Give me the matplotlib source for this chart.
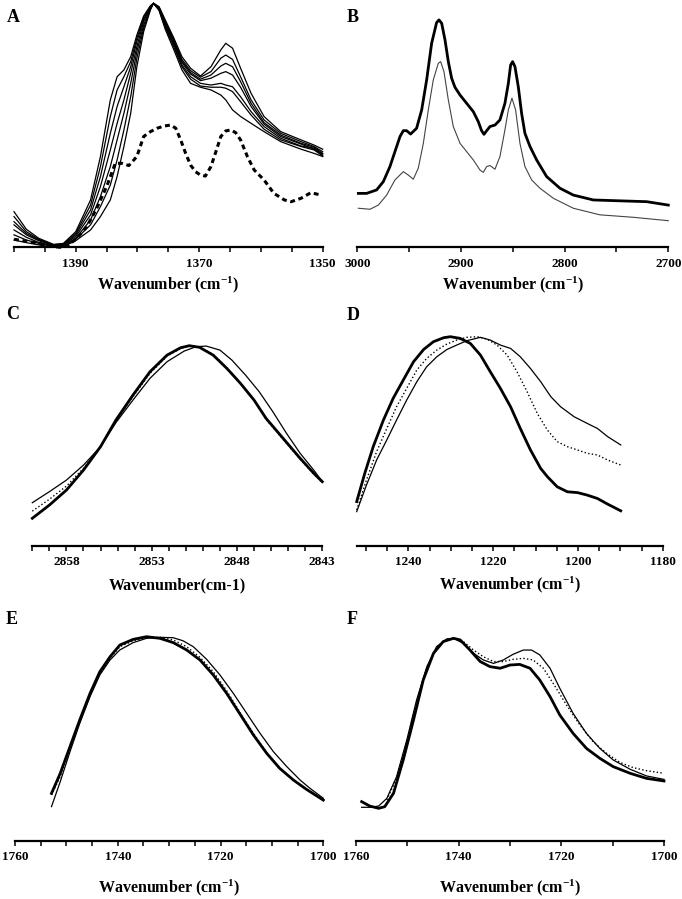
import matplotlib
matplotlib.use("Agg")
import matplotlib.pyplot as plt

plt.rcParams['font.family'] = ['Liberation Serif', 'DejaVu Serif']
plt.rcParams['font.weight'] = 'bold'
plt.rcParams['mathtext.default'] = 'regular'
plt.rcParams['lines.solid_joinstyle'] = 'round'

# ---------------- Panel A (1400-1350 cm-1) ----------------
a_wn = [1400, 1398, 1396, 1393.6, 1392, 1390, 1387.6, 1386, 1384.4, 1383.3, 1382.2, 1381.1,
        1380.1, 1379, 1377.9, 1377.4, 1376.5, 1375.5, 1374.1, 1372.8, 1371.4, 1369.8, 1368.1,
        1366.5, 1365.7, 1364.6, 1363.3, 1361.6, 1359.5, 1356.8, 1353.5, 1351.4, 1350]
a_k0 = [3.0, 1.9, 1.0, 0.0, 0.3, 2.7, 7.1, 12.6, 19.4, 29.0, 41.3, 54.9, 74.0, 88.4, 97.3, 100,
        98.6, 93.2, 85.7, 78.1, 73.4, 70.2, 74.0, 80.9, 83.6, 81.6, 73.4, 63.1, 53.6, 47.4, 44.0, 41.9, 40.2]
a_k1 = [5.1, 3.0, 1.6, 0.3, 0.5, 3.3, 9.2, 16.7, 25.5, 35.8, 48.1, 61.7, 77.5, 89.8, 97.7, 100,
        98.4, 92.5, 85.0, 77.0, 72.4, 69.7, 72.0, 77.5, 78.8, 77.0, 69.9, 60.4, 52.2, 46.7, 43.3, 41.3, 39.2]
a_k2 = [7.1, 4.1, 2.0, 0.5, 0.7, 3.7, 11.2, 20.8, 33.1, 44.0, 54.9, 67.2, 80.2, 91.1, 98.0, 100,
        98.0, 91.8, 84.3, 76.4, 71.6, 68.9, 70.6, 74.3, 75.4, 74.0, 67.9, 59.0, 51.1, 46.0, 42.6, 41.0, 38.5]
a_k3 = [9.2, 5.1, 2.7, 0.7, 1.0, 4.4, 13.3, 24.9, 39.9, 50.8, 60.4, 71.3, 82.2, 92.5, 98.4, 100,
        98.0, 91.5, 83.6, 75.7, 71.0, 68.3, 69.3, 71.3, 72.0, 70.6, 65.6, 57.7, 50.5, 45.4, 42.3, 40.2, 38.3]
a_k4 = [10.5, 5.7, 3.0, 1.0, 1.2, 5.1, 15.3, 29.0, 46.7, 57.7, 65.8, 74.0, 84.3, 93.4, 98.6, 100,
        97.5, 90.7, 82.9, 74.7, 69.9, 67.2, 66.5, 67.2, 66.5, 65.8, 61.7, 55.6, 49.5, 44.7, 41.5, 40.6, 37.8]
a_k5 = [12.6, 6.4, 3.3, 1.0, 1.4, 5.7, 17.3, 33.1, 53.6, 64.5, 69.9, 76.1, 85.7, 94.3, 98.9, 100,
        97.3, 90.2, 82.0, 74.0, 68.9, 66.1, 65.6, 65.6, 65.2, 63.8, 59.7, 54.2, 48.4, 44.0, 41.3, 39.9, 37.4]
a_k6 = [14.6, 7.4, 3.7, 1.2, 1.6, 6.4, 19.4, 37.2, 60.4, 69.9, 72.7, 78.1, 87.0, 94.8, 99.0, 100,
        97.0, 89.3, 80.9, 72.7, 67.2, 65.6, 64.5, 62.4, 60.4, 56.3, 53.6, 50.8, 47.4, 43.3, 40.2, 38.5, 37.2]
a_series = [a_k0, a_k1, a_k2, a_k3, a_k4, a_k5, a_k6]

a_diff_wn = [1400, 1398.5, 1396.9, 1395.2, 1393.6, 1392.5, 1391.4, 1389.8, 1388.2, 1386.6, 1384.9,
             1383.6, 1382.5, 1381.4, 1380.1, 1379.0, 1377.9, 1376.8, 1375.7, 1374.6, 1373.8, 1373.0,
             1372.2, 1371.4, 1370.6, 1369.8, 1369.0, 1368.1, 1367.3, 1366.5, 1365.7, 1364.9, 1364.1,
             1363.3, 1362.2, 1361.1, 1359.5, 1357.9, 1356.2, 1355.1, 1353.5, 1351.9, 1350.3]
a_diff = [3.3, 2.7, 2.0, 1.2, 0.3, 0.0, 0.5, 3.7, 8.5, 16.0, 25.5, 34.4, 34.4, 33.5, 37.2, 45.4,
          47.4, 48.8, 49.7, 50.1, 48.8, 44.0, 38.5, 33.7, 31.0, 29.6, 29.2, 33.1, 39.2, 45.4, 47.7,
          48.1, 47.0, 44.0, 37.2, 31.7, 27.6, 22.1, 19.4, 18.7, 20.1, 22.4, 21.4]

a_ticks = [1400, 1395, 1390, 1385, 1380, 1375, 1370, 1365, 1360, 1355, 1350]
a_labels = ['', '', '1390', '', '', '', '1370', '', '', '', '1350']

# ---------------- Panel B (3000-2700 cm-1) ----------------
b_thick_wn = [2999.0, 2991.0, 2981.4, 2974.9, 2968.5, 2963.7, 2958.8, 2955.6, 2952.4, 2948.6, 2942.8,
              2937.9, 2933.1, 2928.3, 2923.5, 2921.2, 2918.6, 2915.4, 2912.2, 2909.0, 2905.8, 2900.9,
              2894.5, 2888.1, 2883.3, 2880.1, 2877.8, 2875.2, 2872.0, 2867.2, 2862.4, 2857.6, 2854.3,
              2852.1, 2850.2, 2847.9, 2844.7, 2841.5, 2838.3, 2833.4, 2827.0, 2817.4, 2804.5, 2791.6,
              2772.3, 2743.4, 2720.9, 2700.0]
b_thick = [22.1, 22.1, 23.5, 26.9, 33.1, 39.2, 45.4, 47.8, 47.8, 46.4, 48.8,
           56.3, 68.6, 83.6, 92.1, 93.2, 91.8, 85.0, 76.1, 69.3, 65.6, 62.4,
           59.0, 55.6, 51.5, 47.8, 46.3, 47.8, 49.5, 50.1, 52.2, 59.0, 67.2,
           74.7, 76.1, 74.0, 65.8, 54.9, 46.7, 41.3, 35.8, 29.0, 24.2, 21.4,
           19.4, 19.0, 18.7, 17.3]
b_thin_wn = [2999.0, 2987.8, 2979.7, 2971.7, 2963.7, 2955.6, 2950.8, 2946.0, 2941.2, 2936.3, 2931.5,
             2926.7, 2921.9, 2919.6, 2916.4, 2912.2, 2907.4, 2900.9, 2894.5, 2888.1, 2881.7, 2878.5,
             2875.2, 2872.0, 2867.2, 2862.4, 2857.6, 2854.3, 2850.8, 2847.3, 2843.1, 2838.3, 2831.8,
             2823.8, 2810.9, 2791.6, 2765.9, 2733.8, 2700.0]
b_thin = [16.0, 15.6, 17.3, 21.4, 27.6, 31.0, 29.6, 27.9, 32.4, 42.6, 56.3,
          68.6, 75.4, 76.1, 72.0, 60.4, 49.5, 42.6, 39.2, 35.8, 31.7, 30.7,
          33.1, 33.5, 32.0, 37.2, 48.1, 56.3, 61.1, 56.3, 42.6, 33.1, 27.6,
          24.2, 20.1, 16.0, 13.3, 12.3, 10.9]
b_ticks = [3000, 2950, 2900, 2850, 2800, 2750, 2700]
b_labels = ['3000', '', '2900', '', '2800', '', '2700']

# ---------------- Panel C (2860-2843 cm-1) ----------------
c_wn = [2860.0, 2859.0, 2858.0, 2857.0, 2856.0, 2855.1, 2854.1, 2853.1, 2852.1, 2851.3, 2850.8,
        2850.2, 2849.4, 2848.6, 2847.8, 2847.0, 2846.3, 2845.3, 2844.3, 2843.5, 2843.0]
c_thick = [13.7, 20.3, 27.8, 37.8, 49.5, 62.8, 75.3, 87.0, 95.3, 99.0, 100, 99.2, 95.3, 88.7, 81.2,
           72.8, 63.7, 53.7, 43.7, 36.2, 32.0]
c_dot = [17.3, 23.2, 29.8, 38.7, 49.5, 62.5, 74.5, 86.2, 94.8, 98.7, 99.8, 99.2, 95.7, 89.0, 81.2,
         72.5, 63.2, 53.2, 43.2, 35.8, 31.5]
c_thin_wn = [2860.0, 2859.0, 2858.0, 2857.0, 2856.0, 2855.1, 2854.1, 2853.1, 2852.1, 2851.1, 2850.4,
             2849.8, 2849.0, 2848.3, 2847.5, 2846.7, 2845.9, 2845.1, 2844.3, 2843.5, 2843.0]
c_thin = [21.5, 27.0, 32.8, 40.3, 49.5, 61.5, 72.8, 83.7, 92.0, 97.3, 99.5, 99.8, 97.8, 92.8, 85.3,
          77.0, 67.0, 56.2, 46.2, 37.8, 32.0]
c_ticks = list(range(2860, 2842, -1))
c_labels = [str(t) if t in (2858, 2853, 2848, 2843) else '' for t in c_ticks]

# ---------------- Panel D (1252-1180 cm-1) ----------------
d_thick_wn = [1252.2, 1250.3, 1248.3, 1245.9, 1243.6, 1241.2, 1238.8, 1236.4, 1234.1, 1231.7, 1230.1,
              1227.8, 1225.4, 1223.0, 1220.7, 1218.3, 1215.9, 1213.6, 1211.2, 1208.8, 1207.2, 1204.9,
              1202.5, 1200.1, 1197.8, 1195.4, 1193.0, 1189.9]
d_thick = [21.1, 34.6, 47.4, 60.1, 70.5, 79.3, 88.0, 93.9, 97.6, 99.5, 100, 99.2, 96.8, 91.2, 83.3,
           75.3, 66.5, 56.1, 45.8, 37.0, 33.0, 28.2, 25.8, 25.4, 24.2, 22.6, 19.9, 16.7]
d_dot_wn = [1252.2, 1249.9, 1247.5, 1245.1, 1242.8, 1240.4, 1238.0, 1235.7, 1233.3, 1230.9, 1228.6,
            1226.2, 1223.8, 1221.5, 1219.1, 1216.7, 1214.4, 1212.0, 1209.6, 1207.2, 1204.9, 1202.5,
            1200.1, 1197.8, 1195.4, 1193.0, 1189.9]
d_dot = [17.1, 31.4, 45.0, 56.1, 66.5, 75.3, 84.1, 89.6, 93.6, 96.5, 98.4, 99.7, 100, 98.9, 96.0,
         91.2, 83.3, 73.7, 63.3, 55.3, 49.8, 47.4, 45.8, 44.2, 43.4, 41.0, 38.6]
d_thin_wn = [1252.2, 1249.9, 1247.5, 1245.1, 1242.8, 1240.4, 1238.0, 1235.7, 1233.3, 1230.9, 1228.6,
             1226.2, 1223.0, 1220.7, 1218.3, 1215.9, 1213.6, 1211.2, 1208.8, 1206.4, 1204.1, 1200.9,
             1197.8, 1195.4, 1193.0, 1189.9]
d_thin = [16.3, 29.0, 41.0, 50.6, 60.1, 69.7, 78.5, 85.6, 90.4, 93.9, 96.0, 98.1, 99.7, 98.4, 96.0,
          94.4, 90.4, 84.8, 78.5, 71.3, 66.5, 61.7, 58.5, 56.1, 52.2, 48.2]
d_ticks = [1250, 1245, 1240, 1235, 1230, 1225, 1220, 1215, 1210, 1205, 1200, 1195, 1190, 1185, 1180]
d_labels = [str(t) if t in (1240, 1220, 1200, 1180) else '' for t in d_ticks]

# ---------------- Panel E (1760-1700 cm-1) ----------------
e_wn = [1752.9, 1751.2, 1749.3, 1747.4, 1745.4, 1743.5, 1741.5, 1739.6, 1737.0, 1734.4, 1731.8,
        1729.2, 1726.6, 1724.0, 1721.4, 1718.8, 1716.3, 1713.6, 1711.0, 1708.5, 1705.8, 1703.3, 1700.0]
e_thick = [23.2, 33.0, 46.1, 59.2, 72.2, 82.8, 90.2, 95.9, 98.7, 100, 99.2, 97.1, 93.5, 88.6, 81.2,
           72.2, 62.4, 51.8, 42.8, 35.5, 29.7, 25.2, 19.9]
e_dot = [22.4, 31.4, 45.3, 58.3, 71.4, 82.0, 89.4, 95.1, 98.0, 99.7, 99.7, 98.4, 95.1, 89.9, 82.8,
         73.5, 63.2, 52.6, 43.1, 35.8, 29.7, 25.2, 20.3]
e_thin_wn = [1752.9, 1751.2, 1749.3, 1747.4, 1745.4, 1743.5, 1741.5, 1739.6, 1737.0, 1734.4, 1731.8,
             1729.2, 1727.3, 1725.3, 1722.7, 1720.1, 1717.5, 1714.9, 1712.3, 1709.7, 1707.1, 1704.5,
             1702.6, 1700.0]
e_thin = [16.7, 28.9, 43.6, 57.5, 70.6, 81.2, 88.6, 93.5, 97.1, 99.2, 99.7, 99.5, 98.0, 95.1, 88.9,
          81.2, 72.2, 62.4, 52.6, 43.6, 36.3, 29.7, 25.7, 20.8]
e_ticks = list(range(1760, 1695, -5))
e_labels = [str(t) if t % 20 == 0 else '' for t in e_ticks]

# ---------------- Panel F (1760-1700 cm-1) ----------------
f_thick_wn = [1758.9, 1757.3, 1755.6, 1754.4, 1752.7, 1750.8, 1748.8, 1746.9, 1744.9, 1743.0, 1741.0,
              1739.7, 1737.8, 1735.8, 1733.9, 1731.9, 1730.0, 1728.1, 1726.1, 1724.2, 1722.2, 1720.3,
              1717.7, 1715.1, 1712.5, 1709.9, 1706.6, 1703.4, 1700.0]
f_thick = [19.3, 17.1, 16.0, 16.8, 23.4, 39.9, 59.6, 79.4, 92.6, 98.4, 100, 99.2, 94.2, 88.5, 86.0,
           85.2, 86.8, 87.1, 85.2, 79.4, 71.2, 62.1, 53.0, 45.6, 40.7, 36.6, 33.3, 30.8, 29.5]
f_thin_wn = [1758.9, 1757.3, 1755.6, 1754.0, 1752.1, 1750.1, 1748.2, 1746.2, 1744.3, 1742.3, 1741.0,
             1739.1, 1737.1, 1735.2, 1733.2, 1731.3, 1729.4, 1727.4, 1725.8, 1724.2, 1722.2, 1720.3,
             1717.7, 1715.1, 1712.5, 1709.9, 1706.6, 1703.4, 1700.0]
f_thin = [16.5, 16.5, 17.1, 20.9, 31.6, 49.8, 69.5, 86.0, 95.9, 99.7, 100, 97.5, 92.6, 89.3, 87.6,
          89.3, 92.1, 94.2, 94.2, 91.8, 85.2, 75.3, 62.9, 53.0, 45.6, 39.9, 35.3, 32.0, 30.3]
f_dot_wn = [1754.0, 1752.1, 1750.1, 1748.2, 1746.2, 1744.3, 1742.3, 1741.0, 1739.1, 1737.1, 1735.2,
            1733.2, 1731.3, 1729.4, 1727.4, 1725.5, 1723.5, 1721.6, 1719.0, 1716.4, 1713.8, 1711.2,
            1708.6, 1706.0, 1703.4, 1700.0]
f_dot = [20.1, 30.8, 48.9, 68.7, 85.2, 95.4, 99.5, 100, 98.4, 94.2, 90.9, 88.5, 88.5, 89.6, 90.1,
         89.3, 85.2, 77.8, 67.1, 57.2, 48.9, 43.2, 38.7, 36.1, 34.6, 33.3]
f_ticks = list(range(1760, 1695, -10))
f_labels = [str(t) if t % 20 == 0 else '' for t in f_ticks]

XLAB = 'Wavenumber (cm$^{-1}$)'

W, H = 682, 899
fig = plt.figure(figsize=(W / 100, H / 100), dpi=100)


def make_ax(x0, x1, ytop, ybot, xlim, ticks, labels, xlabel, label_off):
    ax = fig.add_axes([x0 / W, 1 - ybot / H, (x1 - x0) / W, (ybot - ytop) / H])
    ax.set_xlim(*xlim)
    ax.set_ylim(0, 100)
    for s in ['top', 'right', 'left']:
        ax.spines[s].set_visible(False)
    ax.spines['bottom'].set_linewidth(1.6)
    ax.set_yticks([])
    ax.set_xticks(ticks)
    ax.set_xticklabels(labels, fontsize=9.5, fontweight='bold')
    ax.tick_params(axis='x', direction='out', length=3.5, width=1.1, pad=4)
    ax.set_xlabel(xlabel, fontsize=11.5, fontweight='bold')
    ax.xaxis.label.set_va('center')
    ax.xaxis.set_label_coords(0.5, -label_off)
    ax.patch.set_visible(False)
    return ax


# A
axA = make_ax(14, 322.7, 3.3, 247.3, (1400, 1350), a_ticks, a_labels, XLAB, 0.1545)
for s in a_series:
    axA.plot(a_wn, s, color='black', lw=0.9, clip_on=False)
axA.plot(a_diff_wn, a_diff, color='black', lw=2.2, ls=(0, (1.6, 1.2)), clip_on=False)

# B
axB = make_ax(357.3, 668.3, 3.3, 247.3, (3000, 2700), b_ticks, b_labels, XLAB, 0.1545)
axB.plot(b_thick_wn, b_thick, color='black', lw=2.0, clip_on=False)
axB.plot(b_thin_wn, b_thin, color='#444444', lw=0.8, clip_on=False)

# C
axC = make_ax(32.3, 322.3, 345.7, 545.7, (2860, 2843), c_ticks, c_labels, 'Wavenumber(cm-1)', 0.1965)
axC.plot(c_thin_wn, c_thin, color='black', lw=0.9, clip_on=False)
axC.plot(c_wn, c_dot, color='black', lw=1.0, ls=':', clip_on=False)
axC.plot(c_wn, c_thick, color='black', lw=2.0, clip_on=False)

# D
axD = make_ax(356.7, 662.7, 336.7, 545.7, (1252.2, 1180), d_ticks, d_labels, XLAB, 0.188)
axD.plot(d_thin_wn, d_thin, color='black', lw=0.9, clip_on=False)
axD.plot(d_dot_wn, d_dot, color='black', lw=1.0, ls=':', clip_on=False)
axD.plot(d_thick_wn, d_thick, color='black', lw=2.0, clip_on=False)

# E
axE = make_ax(15, 323.3, 636.7, 840.7, (1760, 1700), e_ticks, e_labels, XLAB, 0.232)
axE.plot(e_thin_wn, e_thin, color='black', lw=0.9, clip_on=False)
axE.plot(e_wn, e_dot, color='black', lw=1.0, ls=':', clip_on=False)
axE.plot(e_wn, e_thick, color='black', lw=2.0, clip_on=False)

# F
axF = make_ax(356, 664, 638.3, 840.7, (1760, 1700), f_ticks, f_labels, XLAB, 0.234)
axF.plot(f_thin_wn, f_thin, color='black', lw=0.9, clip_on=False)
axF.plot(f_dot_wn, f_dot, color='black', lw=1.0, ls=':', clip_on=False)
axF.plot(f_thick_wn, f_thick, color='black', lw=2.0, clip_on=False)

# panel letters
for letter, (px, py) in zip('ABCDEF', [(13, 18), (353, 17), (13, 315), (353, 316), (12, 619), (352, 620)]):
    fig.text(px / W, 1 - py / H, letter, fontsize=13, fontweight='bold', ha='center', va='center')

fig.savefig('out.png', dpi=100)
